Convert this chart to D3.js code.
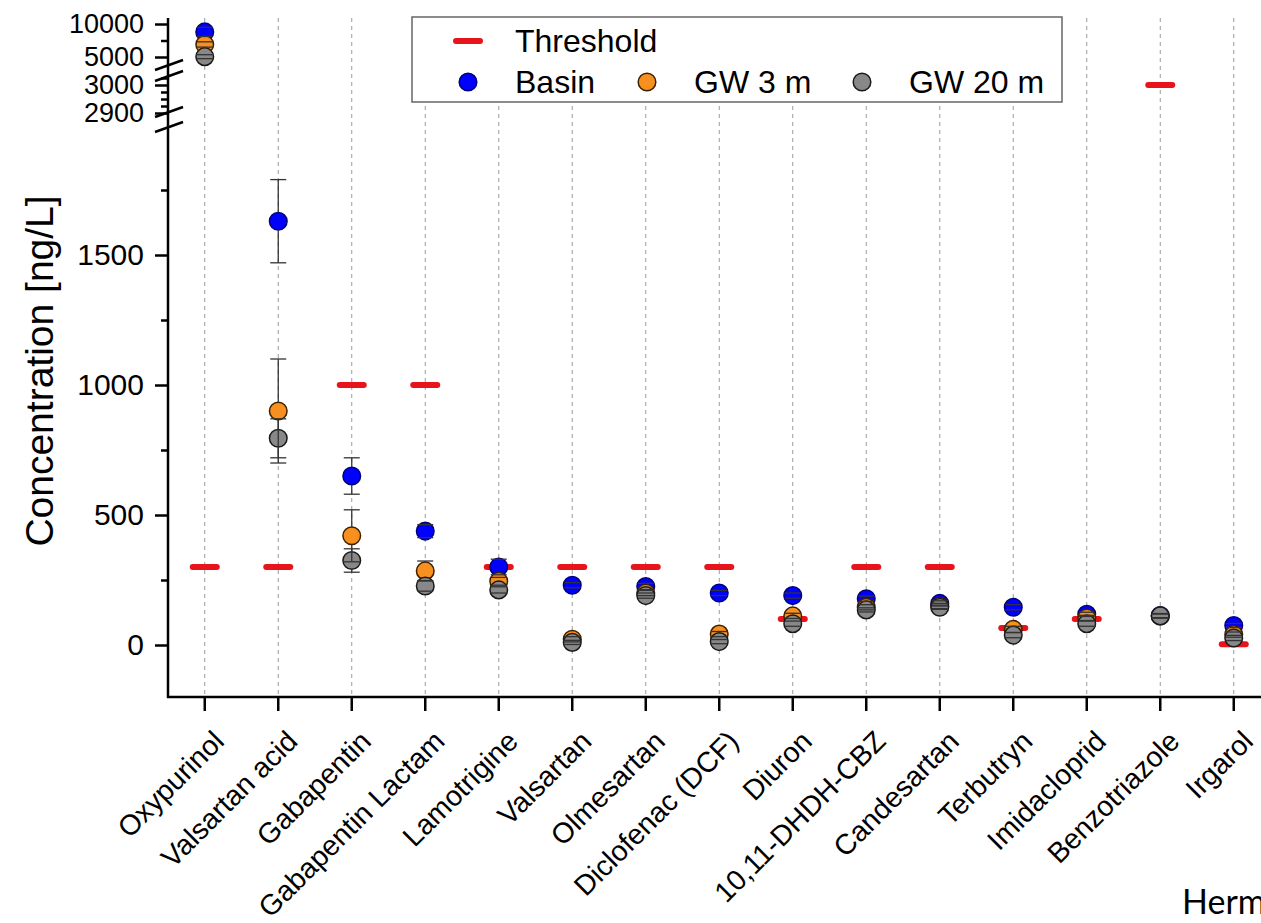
<!DOCTYPE html>
<html>
  <head>
    <meta charset="utf-8" />
    <title>Concentration chart</title>
    <script src="https://cdn.jsdelivr.net/npm/d3@7"></script>
    <style type="text/css">
      body { margin: 0; background: #fff; }
      text { font-family: "Liberation Sans", Arial, sans-serif; fill: #000; }
    </style>
  </head>

  <body>
    <svg id="chart" width="1261" height="923"></svg>
    <script type="text/javascript">
      // data
      var categories = ['Oxypurinol', 'Valsartan acid', 'Gabapentin', 'Gabapentin Lactam', 'Lamotrigine',
        'Valsartan', 'Olmesartan', 'Diclofenac (DCF)', 'Diuron', '10,11-DHDH-CBZ', 'Candesartan',
        'Terbutryn', 'Imidacloprid', 'Benzotriazole', 'Irgarol'];
      var threshold = [300, 300, 1000, 1000, 300, 300, 300, 300, 100, 300, 300, 65, 100, 3000, 3];
      var basin    = [8800, 1630, 650, 438, 300, 230, 225, 200, 190, 178, 160, 145, 118, 113, 75];
      var basinErr = [700, 160, 70, 25, 30, 10, 12, 10, 10, 10, 10, 10, 8, 8, 8];
      var gw3      = [6900, 900, 420, 285, 245, 22, 200, 42, 112, 145, 150, 60, 104, 112, 40];
      var gw3Err   = [400, 200, 100, 38, 15, 10, 10, 10, 10, 10, 10, 12, 10, 8, 10];
      var gw20     = [5050, 795, 325, 227, 212, 10, 190, 13, 82, 135, 145, 38, 82, 112, 27];
      var gw20Err  = [300, 75, 45, 20, 12, 8, 10, 8, 10, 8, 8, 10, 10, 8, 10];

      var mainTicks = [0, 500, 1000, 1500], mainMinor = [250, 750, 1250, 1750];
      var midTicks = [2900, 3000], midMinor = [2925, 2950, 2975, 3025];
      var topTicks = [5000, 10000], topMinor = [7500];

      var svg = d3.select('#chart');
      var axisX = 168, axisBottom = 697, axisTop = 18;

      var x = d3.scaleBand().domain(categories).range([168, 1270.5]);
      var cx = (d) => x(d) + x.bandwidth() / 2;

      // broken y axis: three linear pieces
      var yMain = d3.scaleLinear().domain([0, 1500]).range([645, 255]);
      var yMid = d3.scaleLinear().domain([2900, 3000]).range([113, 85]);
      var yTop = d3.scaleLinear().domain([5000, 10000]).range([57, 24]);
      function y(v) {
        if (v >= 4000) return yTop(v);
        if (v >= 2500) return yMid(v);
        return yMain(v);
      }

      // vertical dashed grid
      svg.append('g').selectAll('line').data(categories).enter().append('line')
        .attr('x1', cx).attr('x2', cx)
        .attr('y1', axisTop).attr('y2', axisBottom)
        .attr('stroke', '#9a9a9a').attr('stroke-width', 1).attr('stroke-dasharray', '4,4');

      // legend box (covers grid)
      var lg = svg.append('g');
      lg.append('rect').attr('x', 412).attr('y', 17).attr('width', 650).attr('height', 85)
        .attr('fill', '#fff').attr('stroke', '#666').attr('stroke-width', 1.5);

      // thresholds
      svg.append('g').selectAll('line').data(categories).enter().append('line')
        .attr('x1', (d) => cx(d) - 12).attr('x2', (d) => cx(d) + 12)
        .attr('y1', (d, i) => y(threshold[i])).attr('y2', (d, i) => y(threshold[i]))
        .attr('stroke', '#e8141c').attr('stroke-width', 6).attr('stroke-linecap', 'round');

      var series = [
        { vals: basin, errs: basinErr, fill: '#0000ff', stroke: '#00007a' },
        { vals: gw3, errs: gw3Err, fill: '#f7901e', stroke: '#3d2000' },
        { vals: gw20, errs: gw20Err, fill: '#888888', stroke: '#1a1a1a' },
      ];
      var r = 8.8;

      series.forEach(function (s) {
        svg.append('g').selectAll('circle').data(categories).enter().append('circle')
          .attr('cx', cx).attr('cy', (d, i) => y(s.vals[i])).attr('r', r)
          .attr('fill', s.fill).attr('stroke', s.stroke).attr('stroke-width', 1.5);
      });

      // error bars, drawn from the symbol edge out to the caps
      series.forEach(function (s) {
        var g = svg.append('g').attr('stroke', '#333').attr('stroke-width', 1.3);
        categories.forEach(function (c, i) {
          var yc = y(s.vals[i]), yHi = y(s.vals[i] + s.errs[i]), yLo = y(s.vals[i] - s.errs[i]);
          var xc = cx(c);
          if (yc - r > yHi) g.append('line').attr('x1', xc).attr('x2', xc).attr('y1', yHi).attr('y2', yc - r);
          if (yLo > yc + r) g.append('line').attr('x1', xc).attr('x2', xc).attr('y1', yc + r).attr('y2', yLo);
          [yHi, yLo].forEach(function (yy) {
            g.append('line').attr('x1', xc - 8).attr('x2', xc + 8).attr('y1', yy).attr('y2', yy);
          });
        });
      });

      // y axis pieces
      function yAxis(scale, ticks, minor, fs) {
        var a = svg.append('g').attr('transform', 'translate(' + axisX + ',0)')
          .call(d3.axisLeft(scale).tickValues(ticks).tickSize(13).tickPadding(11).tickFormat(d3.format('d')));
        a.select('.domain').remove();
        a.selectAll('line').attr('stroke-width', 2.5);
        a.selectAll('text').style('font-size', fs).style('font-family', '"Liberation Sans", Arial, sans-serif');
        var m = svg.append('g').attr('transform', 'translate(' + axisX + ',0)')
          .call(d3.axisLeft(scale).tickValues(minor).tickSize(7).tickFormat(''));
        m.select('.domain').remove();
        m.selectAll('line').attr('stroke-width', 2.5);
      }
      yAxis(yMain, mainTicks, mainMinor, '30px');
      yAxis(yMid, midTicks, midMinor, '27px');
      yAxis(yTop, topTicks, topMinor, '27px');

      svg.append('line').attr('x1', axisX).attr('x2', axisX).attr('y1', axisBottom + 1).attr('y2', axisTop)
        .attr('stroke', '#000').attr('stroke-width', 2.5);

      // break marks
      [[117, 132], [70, 81]].forEach(function (pair) {
        pair.forEach(function (yb) {
          svg.append('line').attr('x1', axisX - 13).attr('x2', axisX + 15)
            .attr('y1', yb).attr('y2', yb - 10).attr('stroke', '#000').attr('stroke-width', 2.5);
        });
      });

      // x axis
      var xa = svg.append('g').attr('transform', 'translate(0,' + axisBottom + ')')
        .call(d3.axisBottom(x).tickSize(14).tickSizeOuter(0).tickFormat(''));
      xa.select('.domain').attr('stroke-width', 2.5).attr('d', 'M' + (axisX - 1) + ',0H1261');
      xa.selectAll('line').attr('stroke-width', 2.5);

      svg.append('g').selectAll('text').data(categories).enter().append('text')
        .attr('transform', (d) => 'translate(' + (cx(d) + 21) + ',743) rotate(-45)')
        .attr('text-anchor', 'end').style('font-size', '28.5px').text((d) => d);

      // y title
      svg.append('text').attr('transform', 'translate(53,371) rotate(-90)')
        .attr('text-anchor', 'middle').style('font-size', '39px').text('Concentration [ng/L]');

      // legend content
      lg.append('line').attr('x1', 456).attr('x2', 480).attr('y1', 41).attr('y2', 41)
        .attr('stroke', '#e8141c').attr('stroke-width', 6).attr('stroke-linecap', 'round');
      lg.append('text').attr('x', 515).attr('y', 52).style('font-size', '32px').text('Threshold');
      var legItems = [
        { cx: 468, tx: 515, label: 'Basin', s: series[0] },
        { cx: 647, tx: 694, label: 'GW 3 m', s: series[1] },
        { cx: 862, tx: 909, label: 'GW 20 m', s: series[2] },
      ];
      legItems.forEach(function (it) {
        lg.append('circle').attr('cx', it.cx).attr('cy', 82).attr('r', r)
          .attr('fill', it.s.fill).attr('stroke', it.s.stroke).attr('stroke-width', 1.5);
        lg.append('text').attr('x', it.tx).attr('y', 93).style('font-size', '32px').text(it.label);
      });

      // cropped caption at the bottom right, cut by the edge as in the source
      svg.append('text').attr('x', 1182).attr('y', 914)
        .style('font-family', 'Lato, "Open Sans", sans-serif').style('font-size', '34px').text('Herm');
    </script>
  </body>
</html>
